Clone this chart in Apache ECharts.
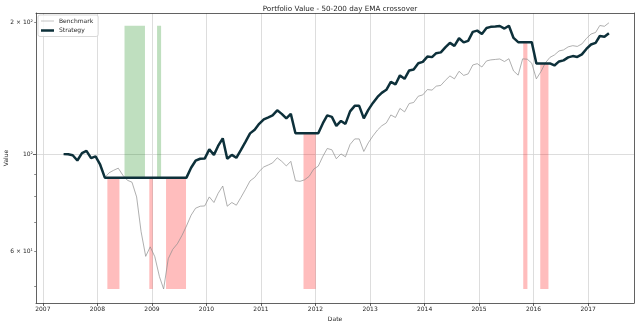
<!DOCTYPE html>
<html>
<head>
<meta charset="utf-8">
<script src="https://cdn.jsdelivr.net/npm/echarts@6/dist/echarts.min.js"></script>
<style>
  html, body { margin: 0; padding: 0; background: #ffffff; }
  #chart { width: 640px; height: 326px; }
</style>
</head>
<body>
<div id="chart"></div>
<script>
// Monthly observations of the portfolio (normalised to 100 at the start)
const dates = [
  '2007-05-20','2007-06-20','2007-07-20','2007-08-20','2007-09-20','2007-10-20','2007-11-20','2007-12-20',
  '2008-01-20','2008-02-20','2008-03-20','2008-04-20','2008-05-20','2008-06-20','2008-07-20','2008-08-20','2008-09-20','2008-10-20','2008-11-20','2008-12-20',
  '2009-01-20','2009-02-20','2009-03-20','2009-04-20','2009-05-20','2009-06-20','2009-07-20','2009-08-20','2009-09-20','2009-10-20','2009-11-20','2009-12-20',
  '2010-01-20','2010-02-20','2010-03-20','2010-04-20','2010-05-20','2010-06-20','2010-07-20','2010-08-20','2010-09-20','2010-10-20','2010-11-20','2010-12-20',
  '2011-01-20','2011-02-20','2011-03-20','2011-04-20','2011-05-20','2011-06-20','2011-07-20','2011-08-20','2011-09-20','2011-10-20','2011-11-20','2011-12-20',
  '2012-01-20','2012-02-20','2012-03-20','2012-04-20','2012-05-20','2012-06-20','2012-07-20','2012-08-20','2012-09-20','2012-10-20','2012-11-20','2012-12-20',
  '2013-01-20','2013-02-20','2013-03-20','2013-04-20','2013-05-20','2013-06-20','2013-07-20','2013-08-20','2013-09-20','2013-10-20','2013-11-20','2013-12-20',
  '2014-01-20','2014-02-20','2014-03-20','2014-04-20','2014-05-20','2014-06-20','2014-07-20','2014-08-20','2014-09-20','2014-10-20','2014-11-20','2014-12-20',
  '2015-01-20','2015-02-20','2015-03-20','2015-04-20','2015-05-20','2015-06-20','2015-07-20','2015-08-20','2015-09-20','2015-10-20','2015-11-20','2015-12-20',
  '2016-01-20','2016-02-20','2016-03-20','2016-04-20','2016-05-20','2016-06-20','2016-07-20','2016-08-20','2016-09-20','2016-10-20','2016-11-20','2016-12-20',
  '2017-01-20','2017-02-20','2017-03-20','2017-04-20','2017-05-20'
];

// Buy-and-hold benchmark
const benchmark = [
  100.0, 99.9, 99.4, 96.7, 100.5, 101.7, 97.9, 98.8,
  94.6, 88.4, 90.7, 91.9, 92.9, 89.5, 87.2, 86.3, 79.9, 66.6, 58.5, 61.5,
  58.4, 52.6, 49.3, 57.8, 60.7, 62.5, 65.2, 68.6, 72.6, 75.3, 76.1, 76.2,
  79.9, 77.6, 81.4, 84.6, 76.1, 77.6, 76.5, 79.7, 83.2, 86.9, 88.5, 91.3,
  93.5, 94.5, 95.5, 98.1, 96.3, 94.0, 96.3, 87.0, 86.7, 87.4, 89.0, 92.4,
  93.9, 98.9, 103.0, 102.3, 97.6, 100.1, 98.6, 105.2, 108.3, 108.3, 101.4, 106.1,
  110.0, 113.5, 116.0, 117.8, 122.8, 121.2, 127.1, 124.8, 130.4, 131.1, 135.5, 136.4,
  140.3, 139.9, 142.8, 143.4, 147.2, 150.7, 148.4, 154.4, 151.1, 152.3, 159.6, 160.7,
  157.9, 163.0, 163.9, 164.3, 164.7, 162.5, 164.9, 154.7, 151.3, 164.8, 164.5, 161.1,
  148.4, 154.2, 161.3, 166.1, 168.2, 171.8, 172.7, 175.5, 176.6, 175.9, 178.2, 183.4,
  187.7, 189.3, 196.3, 195.5, 199.1
];

// 50/200-day EMA crossover strategy (flat while out of the market)
const strategy = [
  100.0, 99.9, 99.4, 96.7, 100.5, 101.7, 97.9, 98.8,
  94.6, 88.4, 88.4, 88.4, 88.4, 88.4, 88.4, 88.4, 88.4, 88.4, 88.4, 88.4,
  88.4, 88.4, 88.4, 88.4, 88.4, 88.4, 88.4, 88.4, 93.1, 96.6, 97.6, 97.7,
  102.5, 99.6, 104.4, 108.6, 97.6, 99.6, 98.1, 102.3, 106.8, 111.5, 113.6, 117.2,
  120.0, 121.3, 122.5, 125.8, 123.5, 120.6, 123.5, 111.6, 111.6, 111.6, 111.6, 111.6,
  111.6, 117.6, 122.5, 121.6, 116.0, 119.0, 117.2, 125.1, 128.8, 128.8, 120.6, 126.1,
  130.8, 135.0, 137.9, 140.1, 146.0, 144.1, 151.1, 148.4, 155.1, 155.9, 161.1, 162.2,
  166.8, 166.3, 169.8, 170.5, 175.0, 179.2, 176.4, 183.6, 179.7, 181.1, 189.8, 191.1,
  187.8, 193.8, 194.9, 195.3, 195.8, 193.2, 196.1, 183.9, 179.9, 179.9, 179.9, 179.9,
  160.9, 160.9, 160.9, 160.9, 159.2, 162.6, 163.5, 166.1, 167.2, 166.5, 168.7, 173.6,
  177.7, 179.2, 185.8, 185.0, 188.5
];

// Shaded signal windows: [start, end, strategy level]
const sellSpans = [
  ['2008-03-08', '2008-05-28', 88.4],
  ['2008-12-14', '2009-01-06', 88.4],
  ['2009-04-05', '2009-08-17', 88.4],
  ['2011-10-13', '2012-01-03', 111.6],
  ['2015-10-24', '2015-11-21', 179.9],
  ['2016-02-15', '2016-04-10', 160.9]
];
const buySpans = [
  ['2008-07-01', '2008-11-15', 88.4],
  ['2009-02-04', '2009-03-03', 88.4]
];
const spanFloor = 49.3;   // lowest benchmark value
const spanCeiling = 196.1; // highest strategy value

// Axis ticks
const yearTicks = ['2007-01-01','2008-01-01','2009-01-01','2010-01-01','2011-01-01','2012-01-01',
                   '2013-01-01','2014-01-01','2015-01-01','2016-01-01','2017-01-01'];
const majorValueTicks = [100];
const minorValueTicks = [50, 60, 70, 80, 90, 200];
const minorValueLabels = [60, 200];
const xRange = ['2006-11-16', '2017-11-04'];
const yRange = [45.81, 209.6];

const FONT = 'DejaVu Sans';
const TEXT = '#262626';
const SPINE = '#3a3a3a';
const GRID = '#d4d4d4';
const BENCH_COLOR = '#8c8c8c';
const STRAT_COLOR = '#0d303a';

// ISO date string -> UTC milliseconds, used as the numeric x value
function ts(s) {
  const p = s.split('-').map(Number);
  return Date.UTC(p[0], p[1] - 1, p[2]);
}

function logLabel(v) {
  const r = Math.round(v);
  if (r === 100) return '10²';
  if (r === 200) return '2 × 10²';
  if (r === 60) return '6 × 10¹';
  return '';
}

const benchData = dates.map((d, i) => [ts(d), benchmark[i]]);
const stratData = dates.map((d, i) => [ts(d), strategy[i]]);
const yearTickValues = yearTicks.map(ts);

const areas = [];
sellSpans.forEach(s => areas.push([
  { xAxis: ts(s[0]), yAxis: spanFloor, itemStyle: { color: 'rgba(255,0,0,0.26)' } },
  { xAxis: ts(s[1]), yAxis: s[2] }
]));
buySpans.forEach(s => areas.push([
  { xAxis: ts(s[0]), yAxis: s[2], itemStyle: { color: 'rgba(0,128,0,0.25)' } },
  { xAxis: ts(s[1]), yAxis: spanCeiling }
]));

// Legend keys: plain line segments (corner specks fix the icon box size)
const thinKey = 'path://M0,0h0.01v0.01h-0.01z M0,2.65h13v0.7h-13z M12.99,5.99h0.01v0.01h-0.01z';
const thickKey = 'path://M0,0h0.01v0.01h-0.01z M0,1.75h13v2.5h-13z M12.99,5.99h0.01v0.01h-0.01z';

const chart = echarts.init(document.getElementById('chart'), null, { renderer: 'canvas' });

chart.setOption({
  animation: false,
  backgroundColor: '#ffffff',
  title: {
    text: 'Portfolio Value - 50-200 day EMA crossover',
    left: 335,
    textAlign: 'center',
    top: 1,
    textStyle: { fontFamily: FONT, fontSize: 7.2, fontWeight: 'normal', color: TEXT }
  },
  legend: {
    orient: 'vertical',
    left: 38,
    top: 15,
    itemWidth: 13,
    itemHeight: 6,
    itemGap: 3.5,
    padding: [3, 5, 3, 3],
    borderColor: '#cfcfcf',
    borderWidth: 0.8,
    borderRadius: 2,
    backgroundColor: 'rgba(255,255,255,0.85)',
    textStyle: { fontFamily: FONT, fontSize: 6, color: TEXT },
    data: [
      { name: 'Benchmark', icon: thinKey },
      { name: 'Strategy', icon: thickKey }
    ]
  },
  grid: { left: 36, right: 6, top: 13, bottom: 23, containLabel: false, outerBoundsMode: 'none' },
  xAxis: [
    {
      type: 'value',
      min: ts(xRange[0]),
      max: ts(xRange[1]),
      position: 'bottom',
      name: 'Date',
      nameLocation: 'middle',
      nameGap: 13,
      nameTextStyle: { fontFamily: FONT, fontSize: 6, color: TEXT },
      axisLine: { show: true, lineStyle: { color: SPINE, width: 0.8 } },
      axisTick: { show: true, customValues: yearTickValues, length: 3, lineStyle: { color: SPINE, width: 0.8 } },
      axisLabel: {
        customValues: yearTickValues,
        formatter: v => String(new Date(v).getUTCFullYear()),
        fontFamily: FONT, fontSize: 6, color: TEXT, margin: 3
      },
      splitLine: { show: true, lineStyle: { color: GRID, width: 0.8 } }
    },
    {
      type: 'value',
      min: ts(xRange[0]),
      max: ts(xRange[1]),
      position: 'top',
      axisLine: { show: true, lineStyle: { color: SPINE, width: 0.8 } },
      axisTick: { show: false },
      axisLabel: { show: false },
      splitLine: { show: false }
    }
  ],
  yAxis: [
    {
      type: 'log',
      logBase: 10,
      min: yRange[0],
      max: yRange[1],
      position: 'left',
      name: 'Value',
      nameLocation: 'middle',
      nameGap: 27,
      nameTextStyle: { fontFamily: FONT, fontSize: 6, color: TEXT },
      axisLine: { show: true, lineStyle: { color: SPINE, width: 0.8 } },
      axisTick: { show: true, customValues: majorValueTicks, length: 3, lineStyle: { color: SPINE, width: 0.8 } },
      axisLabel: {
        customValues: majorValueTicks,
        formatter: logLabel,
        fontFamily: FONT, fontSize: 6, color: TEXT, margin: 3
      },
      splitLine: { show: true, lineStyle: { color: GRID, width: 0.8 } }
    },
    {
      type: 'log',
      logBase: 10,
      min: yRange[0],
      max: yRange[1],
      position: 'left',
      axisLine: { show: false },
      axisTick: { show: true, customValues: minorValueTicks, length: 1.8, lineStyle: { color: SPINE, width: 0.6 } },
      axisLabel: {
        customValues: minorValueLabels,
        formatter: logLabel,
        fontFamily: FONT, fontSize: 6, color: TEXT, margin: 3
      },
      splitLine: { show: false }
    },
    {
      type: 'log',
      logBase: 10,
      min: yRange[0],
      max: yRange[1],
      position: 'right',
      axisLine: { show: true, lineStyle: { color: SPINE, width: 0.8 } },
      axisTick: { show: false },
      axisLabel: { show: false },
      splitLine: { show: false }
    }
  ],
  series: [
    {
      name: 'Benchmark',
      type: 'line',
      xAxisIndex: 0,
      yAxisIndex: 0,
      data: benchData,
      symbol: 'none',
      lineStyle: { color: BENCH_COLOR, width: 0.7 },
      itemStyle: { color: BENCH_COLOR },
      z: 3,
      markArea: { silent: true, z: 1, data: areas }
    },
    {
      name: 'Strategy',
      type: 'line',
      xAxisIndex: 0,
      yAxisIndex: 0,
      data: stratData,
      symbol: 'none',
      lineStyle: { color: STRAT_COLOR, width: 2.5 },
      itemStyle: { color: STRAT_COLOR },
      z: 4
    }
  ]
});
</script>
</body>
</html>
